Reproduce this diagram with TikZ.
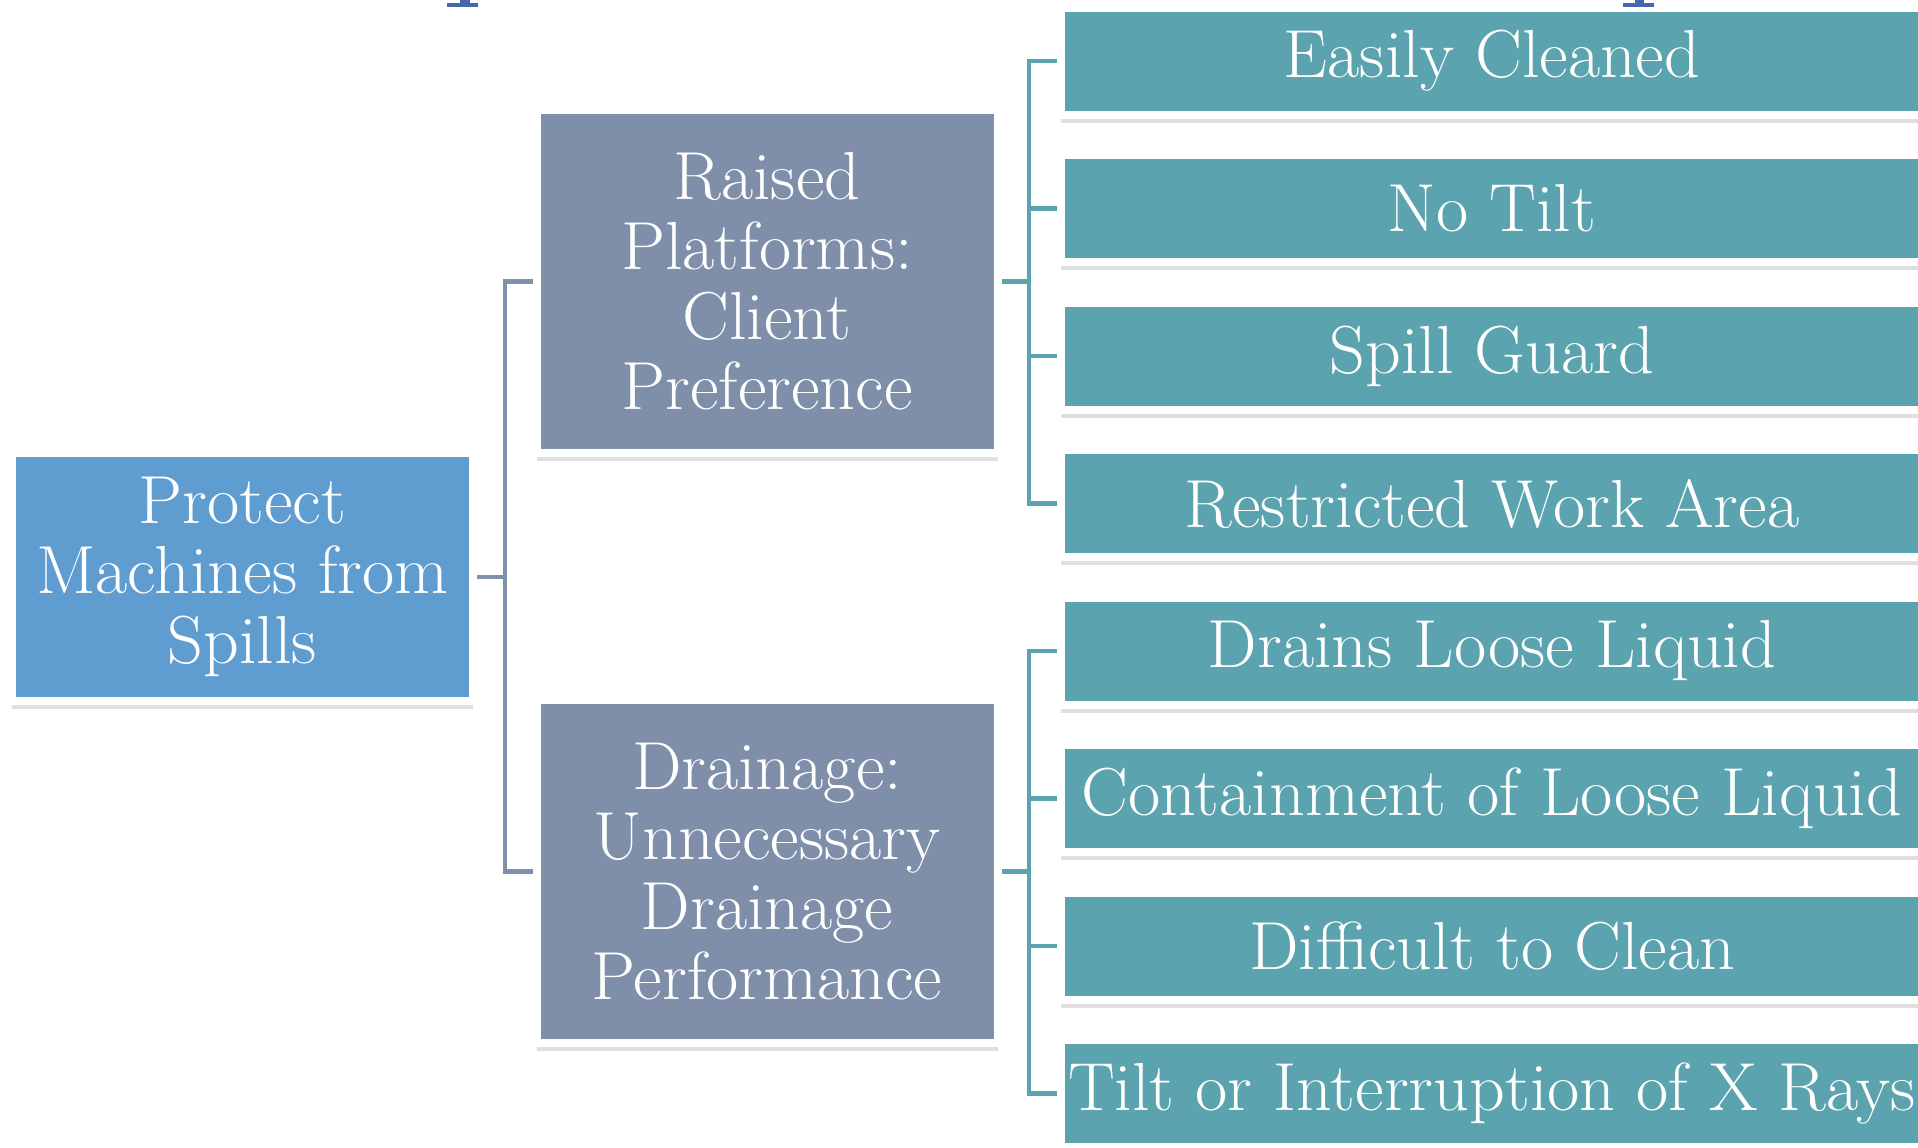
\documentclass[tikz,border=0pt]{standalone}
\usepackage{fontspec}
\setmainfont[FakeStretch=1.03]{Latin Modern Roman}
\usetikzlibrary{shadows,backgrounds}
\definecolor{rootblue}{HTML}{5F9DD0}
\definecolor{midgray}{HTML}{7F8FA9}
\definecolor{leafteal}{HTML}{5BA3AF}
\definecolor{titleblue}{HTML}{4A66AC}
\tikzset{
  box/.style={draw=white, line width=4pt, text=white, align=center, inner sep=0pt,
    font=\fontsize{34}{35}\selectfont,
    drop shadow={shadow xshift=0pt, shadow yshift=-4pt, opacity=0.25}},
  rootbox/.style={box, fill=rootblue, minimum width=230.5pt, minimum height=124pt},
  midbox/.style={box, fill=midgray, minimum width=230.5pt, minimum height=171.5pt},
  leafbox/.style={box, fill=leafteal, minimum width=431pt, minimum height=53.5pt},
  grayline/.style={draw=midgray, line width=2.4pt},
  tealline/.style={draw=leafteal, line width=2.4pt}
}
\begin{document}
\begin{tikzpicture}[x=0.5pt,y=-0.5pt]
\useasboundingbox (0,0) rectangle (1918,1147);
\node[rootbox] (root) at (242.5,577) {Protect\\Machines from\\Spills};
\node[midbox] (raised) at (767,281.5) {Raised\\Platforms:\\Client\\Preference};
\node[midbox] (drain) at (767,871.5) {Drainage:\\Unnecessary\\Drainage\\Performance};
\node[leafbox] (clean) at (1492,61) {Easily Cleaned};
\node[leafbox] (notilt) at (1492,208.5) {No Tilt};
\node[leafbox] (guard) at (1492,356) {Spill Guard};
\node[leafbox] (area) at (1492,503.5) {Restricted Work Area};
\node[leafbox] (drains) at (1492,651) {Drains Loose Liquid};
\node[leafbox] (contain) at (1492,798.5) {Containment of Loose Liquid};
\node[leafbox] (hard) at (1492,946) {Difficult to Clean};
\node[leafbox] (xrays) at (1492,1093.5) {Tilt or Interruption of X Rays};
% bits of the title, cut off at the top
\fill[titleblue] (447,2.5) rectangle (478,6.5);
\fill[titleblue] (460,0) rectangle (470,3);
\fill[titleblue] (1623,2.5) rectangle (1654,6.5);
\fill[titleblue] (1635,0) rectangle (1644,3);
\coordinate (gj) at (505,577);
\coordinate (tj1) at (1029,281.5);
\coordinate (tj2) at (1029,871.5);
\begin{scope}[on background layer]
\draw[grayline] (root.east) -- (gj) |- (raised.west);
\draw[grayline] (gj) |- (drain.west);
\draw[tealline] (raised.east) -- (tj1) |- (clean.west);
\draw[tealline] (tj1) |- (notilt.west);
\draw[tealline] (tj1) |- (guard.west);
\draw[tealline] (tj1) |- (area.west);
\draw[tealline] (drain.east) -- (tj2) |- (drains.west);
\draw[tealline] (tj2) |- (contain.west);
\draw[tealline] (tj2) |- (hard.west);
\draw[tealline] (tj2) |- (xrays.west);
\end{scope}
\end{tikzpicture}
\end{document}
